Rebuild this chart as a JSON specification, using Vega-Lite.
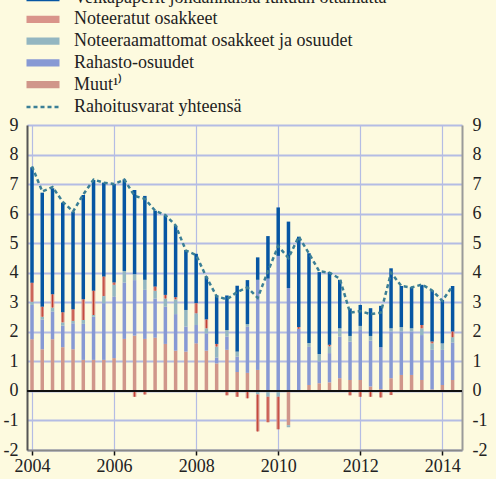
{
  "$schema": "https://vega.github.io/schema/vega-lite/v6.json",
  "width": 435,
  "height": 325,
  "autosize": {"type": "none"},
  "padding": {"left": 27, "top": 125, "right": 34, "bottom": 29},
  "background": "#fdfadf",
  "config": {
    "view": {"stroke": null},
    "font": "Liberation Serif",
    "legend": {
      "labelFont": "Liberation Serif",
      "labelFontSize": 18,
      "labelColor": "#222222",
      "labelLimit": 600,
      "padding": 0,
      "title": null
    }
  },
  "datasets": {
    "bars": [
      {"t": 2004.0, "s": "M", "v": 1.75}, {"t": 2004.0, "s": "R", "v": 1.16}, {"t": 2004.0, "s": "X", "v": 0.11}, {"t": 2004.0, "s": "N", "v": 0.64}, {"t": 2004.0, "s": "V", "v": 3.91},
      {"t": 2004.25, "s": "M", "v": 1.41}, {"t": 2004.25, "s": "R", "v": 1.01}, {"t": 2004.25, "s": "X", "v": 0.09}, {"t": 2004.25, "s": "N", "v": 0.34}, {"t": 2004.25, "s": "V", "v": 3.86},
      {"t": 2004.5, "s": "M", "v": 1.75}, {"t": 2004.5, "s": "R", "v": 0.94}, {"t": 2004.5, "s": "X", "v": 0.13}, {"t": 2004.5, "s": "N", "v": 0.45}, {"t": 2004.5, "s": "V", "v": 3.59},
      {"t": 2004.75, "s": "M", "v": 1.48}, {"t": 2004.75, "s": "R", "v": 0.73}, {"t": 2004.75, "s": "X", "v": 0.11}, {"t": 2004.75, "s": "N", "v": 0.34}, {"t": 2004.75, "s": "V", "v": 3.71},
      {"t": 2005.0, "s": "M", "v": 1.41}, {"t": 2005.0, "s": "R", "v": 0.88}, {"t": 2005.0, "s": "X", "v": 0.08}, {"t": 2005.0, "s": "N", "v": 0.39}, {"t": 2005.0, "s": "V", "v": 3.31},
      {"t": 2005.25, "s": "M", "v": 1.05}, {"t": 2005.25, "s": "R", "v": 1.22}, {"t": 2005.25, "s": "X", "v": 0.13}, {"t": 2005.25, "s": "N", "v": 0.70}, {"t": 2005.25, "s": "V", "v": 3.53},
      {"t": 2005.5, "s": "M", "v": 1.05}, {"t": 2005.5, "s": "R", "v": 1.46}, {"t": 2005.5, "s": "X", "v": 0.06}, {"t": 2005.5, "s": "N", "v": 0.82}, {"t": 2005.5, "s": "V", "v": 3.75},
      {"t": 2005.75, "s": "M", "v": 1.05}, {"t": 2005.75, "s": "R", "v": 1.92}, {"t": 2005.75, "s": "X", "v": 0.24}, {"t": 2005.75, "s": "N", "v": 0.66}, {"t": 2005.75, "s": "V", "v": 3.18},
      {"t": 2006.0, "s": "M", "v": 1.11}, {"t": 2006.0, "s": "R", "v": 2.08}, {"t": 2006.0, "s": "X", "v": 0.40}, {"t": 2006.0, "s": "N", "v": 0.08}, {"t": 2006.0, "s": "V", "v": 3.33},
      {"t": 2006.25, "s": "M", "v": 1.76}, {"t": 2006.25, "s": "R", "v": 1.91}, {"t": 2006.25, "s": "X", "v": 0.39}, {"t": 2006.25, "s": "V", "v": 3.10},
      {"t": 2006.5, "s": "M", "v": 1.87}, {"t": 2006.5, "s": "R", "v": 1.88}, {"t": 2006.5, "s": "X", "v": 0.20}, {"t": 2006.5, "s": "N", "v": -0.20}, {"t": 2006.5, "s": "V", "v": 2.85},
      {"t": 2006.75, "s": "M", "v": 1.76}, {"t": 2006.75, "s": "R", "v": 1.66}, {"t": 2006.75, "s": "X", "v": 0.34}, {"t": 2006.75, "s": "N", "v": -0.12}, {"t": 2006.75, "s": "V", "v": 2.84},
      {"t": 2007.0, "s": "M", "v": 1.80}, {"t": 2007.0, "s": "R", "v": 1.33}, {"t": 2007.0, "s": "X", "v": 0.26}, {"t": 2007.0, "s": "N", "v": 0.14}, {"t": 2007.0, "s": "V", "v": 2.57},
      {"t": 2007.25, "s": "M", "v": 1.59}, {"t": 2007.25, "s": "R", "v": 1.26}, {"t": 2007.25, "s": "X", "v": 0.28}, {"t": 2007.25, "s": "N", "v": 0.12}, {"t": 2007.25, "s": "V", "v": 2.68},
      {"t": 2007.5, "s": "M", "v": 1.36}, {"t": 2007.5, "s": "R", "v": 1.24}, {"t": 2007.5, "s": "X", "v": 0.50}, {"t": 2007.5, "s": "N", "v": 0.07}, {"t": 2007.5, "s": "V", "v": 2.42},
      {"t": 2007.75, "s": "M", "v": 1.33}, {"t": 2007.75, "s": "R", "v": 0.85}, {"t": 2007.75, "s": "X", "v": 0.56}, {"t": 2007.75, "s": "V", "v": 2.03},
      {"t": 2008.0, "s": "M", "v": 1.61}, {"t": 2008.0, "s": "R", "v": 0.62}, {"t": 2008.0, "s": "X", "v": 0.40}, {"t": 2008.0, "s": "N", "v": 0.34}, {"t": 2008.0, "s": "V", "v": 1.67},
      {"t": 2008.25, "s": "M", "v": 1.36}, {"t": 2008.25, "s": "R", "v": 0.59}, {"t": 2008.25, "s": "X", "v": 0.17}, {"t": 2008.25, "s": "N", "v": 0.30}, {"t": 2008.25, "s": "V", "v": 1.45},
      {"t": 2008.5, "s": "M", "v": 0.93}, {"t": 2008.5, "s": "R", "v": 0.20}, {"t": 2008.5, "s": "X", "v": 0.37}, {"t": 2008.5, "s": "N", "v": 0.09}, {"t": 2008.5, "s": "V", "v": 1.64},
      {"t": 2008.75, "s": "M", "v": 1.39}, {"t": 2008.75, "s": "R", "v": 0.45}, {"t": 2008.75, "s": "X", "v": 0.22}, {"t": 2008.75, "s": "N", "v": -0.15}, {"t": 2008.75, "s": "V", "v": 1.17},
      {"t": 2009.0, "s": "M", "v": 0.64}, {"t": 2009.0, "s": "R", "v": 0.52}, {"t": 2009.0, "s": "X", "v": 0.17}, {"t": 2009.0, "s": "N", "v": -0.20}, {"t": 2009.0, "s": "V", "v": 2.23},
      {"t": 2009.25, "s": "M", "v": 0.61}, {"t": 2009.25, "s": "R", "v": 1.56}, {"t": 2009.25, "s": "X", "v": 0.09}, {"t": 2009.25, "s": "N", "v": -0.25}, {"t": 2009.25, "s": "V", "v": 1.49},
      {"t": 2009.5, "s": "M", "v": 0.71}, {"t": 2009.5, "s": "R", "v": 3.05}, {"t": 2009.5, "s": "X", "v": -0.12}, {"t": 2009.5, "s": "N", "v": -1.25}, {"t": 2009.5, "s": "V", "v": 0.76},
      {"t": 2009.75, "s": "R", "v": 3.80}, {"t": 2009.75, "s": "X", "v": -0.20}, {"t": 2009.75, "s": "N", "v": -0.86}, {"t": 2009.75, "s": "V", "v": 1.44},
      {"t": 2010.0, "s": "R", "v": 4.57}, {"t": 2010.0, "s": "X", "v": -0.20}, {"t": 2010.0, "s": "N", "v": -1.10}, {"t": 2010.0, "s": "V", "v": 1.64},
      {"t": 2010.25, "s": "M", "v": -1.16}, {"t": 2010.25, "s": "R", "v": 3.48}, {"t": 2010.25, "s": "X", "v": -0.07}, {"t": 2010.25, "s": "V", "v": 2.25},
      {"t": 2010.5, "s": "R", "v": 2.10}, {"t": 2010.5, "s": "N", "v": 0.06}, {"t": 2010.5, "s": "V", "v": 3.06},
      {"t": 2010.75, "s": "M", "v": 0.20}, {"t": 2010.75, "s": "R", "v": 1.29}, {"t": 2010.75, "s": "X", "v": 0.13}, {"t": 2010.75, "s": "V", "v": 3.04},
      {"t": 2011.0, "s": "M", "v": 0.26}, {"t": 2011.0, "s": "R", "v": 0.74}, {"t": 2011.0, "s": "X", "v": 0.25}, {"t": 2011.0, "s": "V", "v": 2.77},
      {"t": 2011.25, "s": "M", "v": 0.29}, {"t": 2011.25, "s": "R", "v": 0.99}, {"t": 2011.25, "s": "X", "v": 0.23}, {"t": 2011.25, "s": "N", "v": 0.05}, {"t": 2011.25, "s": "V", "v": 2.46},
      {"t": 2011.5, "s": "M", "v": 0.43}, {"t": 2011.5, "s": "R", "v": 1.41}, {"t": 2011.5, "s": "X", "v": 0.28}, {"t": 2011.5, "s": "V", "v": 1.64},
      {"t": 2011.75, "s": "M", "v": 0.37}, {"t": 2011.75, "s": "R", "v": 1.30}, {"t": 2011.75, "s": "X", "v": 0.19}, {"t": 2011.75, "s": "N", "v": -0.15}, {"t": 2011.75, "s": "V", "v": 0.93},
      {"t": 2012.0, "s": "M", "v": 0.37}, {"t": 2012.0, "s": "R", "v": 1.69}, {"t": 2012.0, "s": "X", "v": 0.14}, {"t": 2012.0, "s": "N", "v": -0.20}, {"t": 2012.0, "s": "V", "v": 0.71},
      {"t": 2012.25, "s": "M", "v": 0.15}, {"t": 2012.25, "s": "R", "v": 1.55}, {"t": 2012.25, "s": "X", "v": 0.16}, {"t": 2012.25, "s": "N", "v": -0.20}, {"t": 2012.25, "s": "V", "v": 0.94},
      {"t": 2012.5, "s": "M", "v": 0.06}, {"t": 2012.5, "s": "R", "v": 1.42}, {"t": 2012.5, "s": "N", "v": -0.22}, {"t": 2012.5, "s": "V", "v": 1.40},
      {"t": 2012.75, "s": "M", "v": 0.43}, {"t": 2012.75, "s": "R", "v": 1.58}, {"t": 2012.75, "s": "X", "v": 0.11}, {"t": 2012.75, "s": "N", "v": -0.14}, {"t": 2012.75, "s": "V", "v": 2.03},
      {"t": 2013.0, "s": "M", "v": 0.54}, {"t": 2013.0, "s": "R", "v": 1.47}, {"t": 2013.0, "s": "X", "v": 0.15}, {"t": 2013.0, "s": "V", "v": 1.39},
      {"t": 2013.25, "s": "M", "v": 0.54}, {"t": 2013.25, "s": "R", "v": 1.47}, {"t": 2013.25, "s": "X", "v": 0.11}, {"t": 2013.25, "s": "V", "v": 1.39},
      {"t": 2013.5, "s": "M", "v": 0.37}, {"t": 2013.5, "s": "R", "v": 1.52}, {"t": 2013.5, "s": "X", "v": 0.23}, {"t": 2013.5, "s": "N", "v": 0.11}, {"t": 2013.5, "s": "V", "v": 1.36},
      {"t": 2013.75, "s": "M", "v": 0.05}, {"t": 2013.75, "s": "R", "v": 1.34}, {"t": 2013.75, "s": "X", "v": 0.22}, {"t": 2013.75, "s": "N", "v": 0.06}, {"t": 2013.75, "s": "V", "v": 1.72},
      {"t": 2014.0, "s": "M", "v": 0.20}, {"t": 2014.0, "s": "R", "v": 1.19}, {"t": 2014.0, "s": "X", "v": 0.22}, {"t": 2014.0, "s": "V", "v": 1.47},
      {"t": 2014.25, "s": "M", "v": 0.37}, {"t": 2014.25, "s": "R", "v": 1.27}, {"t": 2014.25, "s": "X", "v": 0.18}, {"t": 2014.25, "s": "N", "v": 0.19}, {"t": 2014.25, "s": "V", "v": 1.54}
    ],
    "total": [
      {"t": 2004.0, "total": 7.6}, {"t": 2004.25, "total": 6.75}, {"t": 2004.5, "total": 6.9}, {"t": 2004.75, "total": 6.4},
      {"t": 2005.0, "total": 6.07}, {"t": 2005.25, "total": 6.65}, {"t": 2005.5, "total": 7.15}, {"t": 2005.75, "total": 7.05},
      {"t": 2006.0, "total": 7.0}, {"t": 2006.25, "total": 7.15}, {"t": 2006.5, "total": 6.6}, {"t": 2006.75, "total": 6.5},
      {"t": 2007.0, "total": 6.1}, {"t": 2007.25, "total": 5.95}, {"t": 2007.5, "total": 5.6}, {"t": 2007.75, "total": 4.75},
      {"t": 2008.0, "total": 4.6}, {"t": 2008.25, "total": 3.85}, {"t": 2008.5, "total": 3.2}, {"t": 2008.75, "total": 3.1},
      {"t": 2009.0, "total": 3.35}, {"t": 2009.25, "total": 3.5}, {"t": 2009.5, "total": 3.15}, {"t": 2009.75, "total": 4.05},
      {"t": 2010.0, "total": 4.9}, {"t": 2010.25, "total": 4.5}, {"t": 2010.5, "total": 5.22}, {"t": 2010.75, "total": 4.65},
      {"t": 2011.0, "total": 4.05}, {"t": 2011.25, "total": 4.0}, {"t": 2011.5, "total": 3.8}, {"t": 2011.75, "total": 2.65},
      {"t": 2012.0, "total": 2.7}, {"t": 2012.25, "total": 2.6}, {"t": 2012.5, "total": 2.65}, {"t": 2012.75, "total": 4.0},
      {"t": 2013.0, "total": 3.55}, {"t": 2013.25, "total": 3.5}, {"t": 2013.5, "total": 3.6}, {"t": 2013.75, "total": 3.4},
      {"t": 2014.0, "total": 3.05}, {"t": 2014.25, "total": 3.55}
    ]
  },
  "layer": [
    {
      "data": {"name": "bars"},
      "transform": [
        {"calculate": "indexof(['M','R','X','N','V'], datum.s)", "as": "o"},
        {"stack": "v", "groupby": ["t"], "sort": [{"field": "o", "order": "ascending"}], "as": ["v0", "v1"]}
      ],
      "mark": {"type": "bar", "size": 3.5},
      "encoding": {
        "x": {
          "field": "t", "type": "quantitative",
          "scale": {"domain": [2004, 2014.357], "nice": false, "zero": false},
          "axis": {
            "title": null, "orient": "bottom",
            "values": [2004, 2006, 2008, 2010, 2012, 2014], "format": "d",
            "labelFont": "Liberation Serif", "labelFontSize": 18, "labelColor": "#222222", "labelPadding": 2,
            "tickSize": 5, "tickColor": "#111111", "tickWidth": 1.5,
            "domainColor": "#8a8a8a", "domainWidth": 2,
            "grid": true, "gridColor": "#b4bce4", "gridWidth": 1.2
          }
        },
        "y": {
          "field": "v0", "type": "quantitative",
          "scale": {"domain": [-2, 9], "nice": false, "zero": false},
          "axis": {
            "title": null, "orient": "left",
            "values": [-2, -1, 0, 1, 2, 3, 4, 5, 6, 7, 8, 9],
            "labelExpr": "'' + datum.value",
            "labelFont": "Liberation Serif", "labelFontSize": 18, "labelColor": "#222222", "labelPadding": 9,
            "ticks": false, "domainColor": "#555555", "domainWidth": 2,
            "grid": true, "gridColor": "#b4bce4", "gridWidth": 2
          }
        },
        "y2": {"field": "v1"},
        "color": {
          "field": "s", "type": "nominal",
          "scale": {
            "domain": ["V", "N", "X", "R", "M"],
            "range": ["#0656a3", "#d9948a", "#93b6c1", "#8799d4", "#d0968a"]
          },
          "legend": {
            "orient": "none", "legendX": 7, "legendY": -136.5,
            "direction": "vertical",
            "symbolType": "M-2.5,-0.55H2.5V0.55H-2.5Z", "symbolSize": 174,
            "symbolStrokeWidth": 0, "labelOffset": 22, "rowPadding": 3.8,
            "labelExpr": "{'V':'Velkapaperit johdannaisia lukuun ottamatta','N':'Noteeratut osakkeet','X':'Noteeraamattomat osakkeet ja osuudet','R':'Rahasto-osuudet','M':'Muut¹⁾'}[datum.value]"
          }
        }
      }
    },
    {
      "data": {"name": "bars"},
      "transform": [
        {"calculate": "indexof(['M','R','X','N','V'], datum.s)", "as": "o"},
        {"stack": "v", "groupby": ["t"], "sort": [{"field": "o", "order": "ascending"}], "as": ["v0", "v1"]},
        {"filter": "datum.s === 'N'"}
      ],
      "mark": {"type": "bar", "size": 1, "color": "#c0392b"},
      "encoding": {
        "x": {"field": "t", "type": "quantitative"},
        "y": {"field": "v0", "type": "quantitative", "axis": null},
        "y2": {"field": "v1"}
      }
    },
    {
      "data": {"values": [{}]},
      "mark": {"type": "rule", "color": "#111111", "strokeWidth": 2},
      "encoding": {"y": {"datum": 0, "type": "quantitative", "axis": null}}
    },
    {
      "data": {"name": "total"},
      "mark": {"type": "line", "color": "#3b7f96", "strokeWidth": 2.5},
      "encoding": {
        "x": {"field": "t", "type": "quantitative"},
        "y": {
          "field": "total", "type": "quantitative",
          "axis": {
            "title": null, "orient": "right",
            "values": [-2, -1, 0, 1, 2, 3, 4, 5, 6, 7, 8, 9],
            "labelExpr": "'' + datum.value",
            "labelFont": "Liberation Serif", "labelFontSize": 18, "labelColor": "#222222", "labelPadding": 10,
            "ticks": false, "domainColor": "#9a9a9a", "domainWidth": 2, "grid": false
          }
        },
        "strokeDash": {
          "datum": "Rahoitusvarat yhteensä", "type": "nominal",
          "scale": {"domain": ["Rahoitusvarat yhteensä"], "range": [[4, 3]]},
          "legend": {
            "orient": "none", "legendX": 7, "legendY": -27,
            "symbolType": "M-2.5,0H2.5", "symbolSize": 174,
            "symbolStrokeColor": "#3b7f96", "symbolStrokeWidth": 2.5,
            "labelOffset": 22
          }
        }
      }
    }
  ],
  "resolve": {"axis": {"y": "independent"}, "scale": {"y": "shared"}}
}
